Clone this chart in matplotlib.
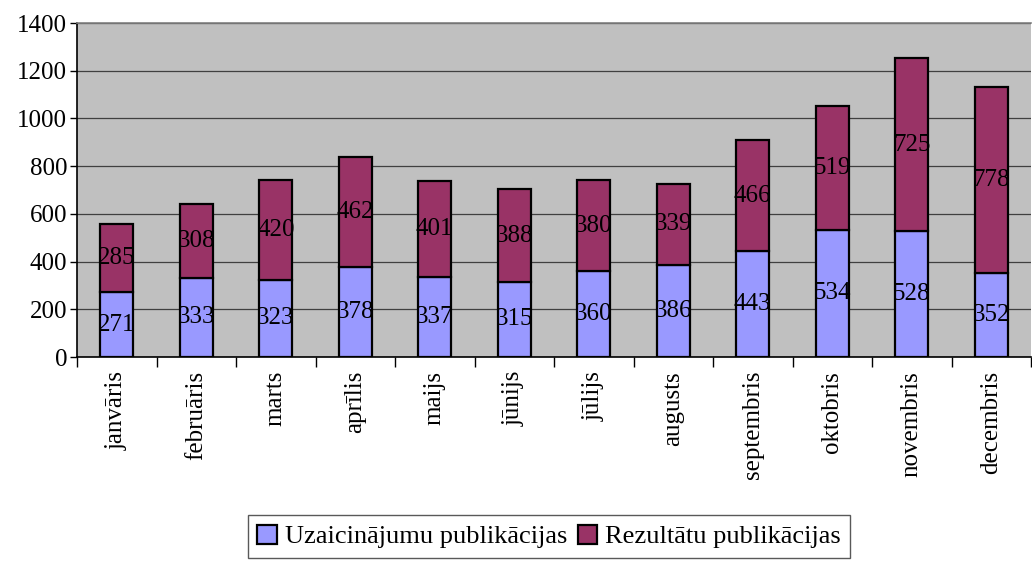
import numpy as np
import matplotlib
matplotlib.use("Agg")
import matplotlib.pyplot as plt

months = ["janvāris", "februāris", "marts", "aprīlis", "maijs", "jūnijs",
          "jūlijs", "augusts", "septembris", "oktobris", "novembris", "decembris"]
invites = [271, 333, 323, 378, 337, 315, 360, 386, 443, 534, 528, 352]
results = [285, 308, 420, 462, 401, 388, 380, 339, 466, 519, 725, 778]
yticks = [0, 200, 400, 600, 800, 1000, 1200, 1400]

plt.rcParams['font.family'] = ['Liberation Serif', 'DejaVu Serif']
fs = 18

fig = plt.figure(figsize=(10.32, 5.63), dpi=100)
ax = fig.add_axes([77/1032, 1 - 357/563, (1031 - 77)/1032, (357 - 23)/563])
ax.set_facecolor("#C0C0C0")

x = np.arange(len(months))
w = 0.42
b1 = ax.bar(x, invites, w, color="#9999FF", edgecolor="black", linewidth=1.6,
            label="Uzaicinājumu publikācijas", zorder=3)
b2 = ax.bar(x, results, w, bottom=invites, color="#993366", edgecolor="black",
            linewidth=1.6, label="Rezultātu publikācijas", zorder=3)
ax.bar_label(b1, labels=[str(v) for v in invites], label_type="center", fontsize=fs, zorder=4)
ax.bar_label(b2, labels=[str(v) for v in results], label_type="center", fontsize=fs, zorder=4)

ax.set_ylim(0, 1400)
ax.set_xlim(-0.5, len(months) - 0.5)
ax.set_yticks(yticks)
ax.set_yticklabels([str(v) for v in yticks], fontsize=fs)
ax.yaxis.grid(True, color="#404040", linewidth=0.9, zorder=1)
ax.tick_params(axis="y", length=5, width=1, direction="out", pad=2)

ax.set_xticks(x)
ax.set_xticklabels(months, rotation=90, fontsize=fs)
ax.set_xticks(np.arange(-0.5, len(months), 1), minor=True)
ax.tick_params(axis="x", which="major", length=0, pad=10)
ax.tick_params(axis="x", which="minor", length=7, width=1, direction="out")

ax.spines["right"].set_visible(False)
ax.spines["top"].set_color("#808080")
ax.spines["top"].set_linewidth(1.2)
ax.spines["left"].set_linewidth(1.2)
ax.spines["bottom"].set_linewidth(1.2)

leg = fig.legend(loc="lower center", bbox_to_anchor=(0.532, 0.0), ncol=2,
                 fontsize=19, frameon=True, fancybox=False, edgecolor="#303030",
                 handlelength=0.75, handleheight=0.75, handletextpad=0.3,
                 columnspacing=0.4, borderpad=0.35, borderaxespad=0.2)
leg.get_frame().set_linewidth(1.0)

fig.savefig("out.png", dpi=100)
